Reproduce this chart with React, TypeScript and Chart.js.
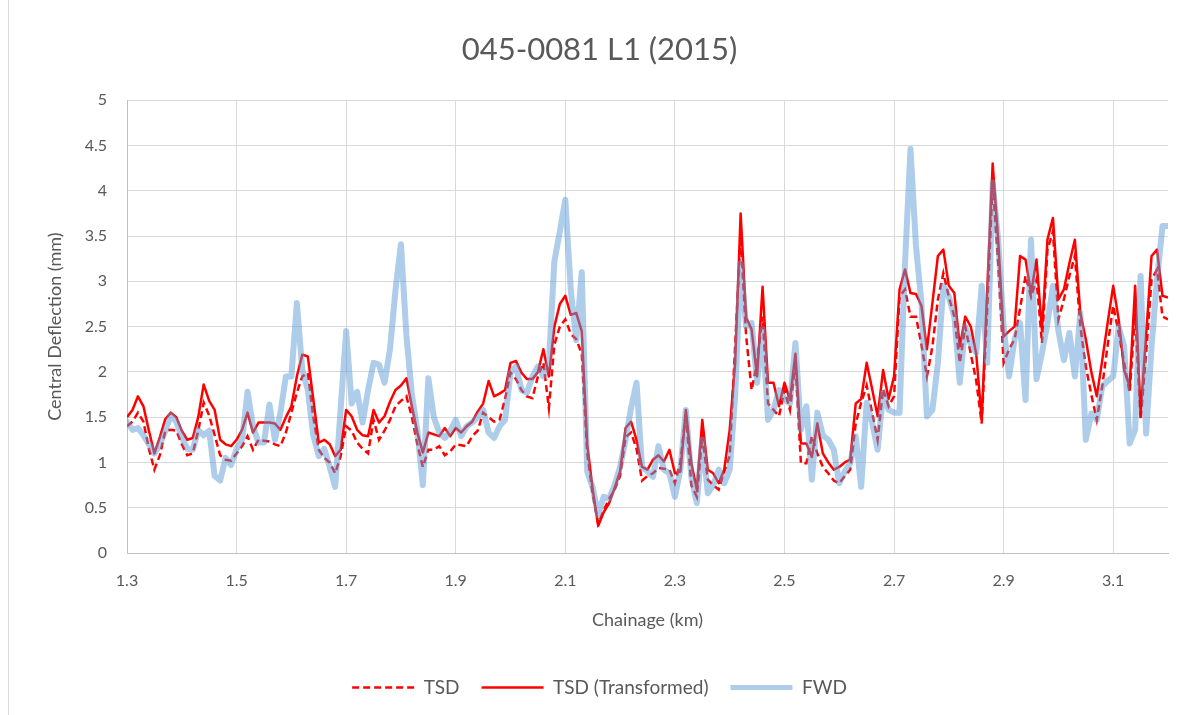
import React, { useEffect, useRef } from "react";
import { Chart, registerables } from "chart.js";

Chart.register(...registerables);

const TITLE = "045-0081 L1 (2015)";
const X_TITLE = "Chainage (km)";
const Y_TITLE = "Central Deflection (mm)";
const SERIES_NAMES = ["TSD", "TSD (Transformed)", "FWD"];
const X_TICKS = [1.3, 1.5, 1.7, 1.9, 2.1, 2.3, 2.5, 2.7, 2.9, 3.1];

const chainage = [
  1.30, 1.31, 1.32, 1.33, 1.34, 1.35, 1.36, 1.37, 1.38, 1.39,
  1.40, 1.41, 1.42, 1.43, 1.44, 1.45, 1.46, 1.47, 1.48, 1.49,
  1.50, 1.51, 1.52, 1.53, 1.54, 1.55, 1.56, 1.57, 1.58, 1.59,
  1.60, 1.61, 1.62, 1.63, 1.64, 1.65, 1.66, 1.67, 1.68, 1.69,
  1.70, 1.71, 1.72, 1.73, 1.74, 1.75, 1.76, 1.77, 1.78, 1.79,
  1.80, 1.81, 1.82, 1.83, 1.84, 1.85, 1.86, 1.87, 1.88, 1.89,
  1.90, 1.91, 1.92, 1.93, 1.94, 1.95, 1.96, 1.97, 1.98, 1.99,
  2.00, 2.01, 2.02, 2.03, 2.04, 2.05, 2.06, 2.07, 2.08, 2.09,
  2.10, 2.11, 2.12, 2.13, 2.14, 2.15, 2.16, 2.17, 2.18, 2.19,
  2.20, 2.21, 2.22, 2.23, 2.24, 2.25, 2.26, 2.27, 2.28, 2.29,
  2.30, 2.31, 2.32, 2.33, 2.34, 2.35, 2.36, 2.37, 2.38, 2.39,
  2.40, 2.41, 2.42, 2.43, 2.44, 2.45, 2.46, 2.47, 2.48, 2.49,
  2.50, 2.51, 2.52, 2.53, 2.54, 2.55, 2.56, 2.57, 2.58, 2.59,
  2.60, 2.61, 2.62, 2.63, 2.64, 2.65, 2.66, 2.67, 2.68, 2.69,
  2.70, 2.71, 2.72, 2.73, 2.74, 2.75, 2.76, 2.77, 2.78, 2.79,
  2.80, 2.81, 2.82, 2.83, 2.84, 2.85, 2.86, 2.87, 2.88, 2.89,
  2.90, 2.91, 2.92, 2.93, 2.94, 2.95, 2.96, 2.97, 2.98, 2.99,
  3.00, 3.01, 3.02, 3.03, 3.04, 3.05, 3.06, 3.07, 3.08, 3.09,
  3.10, 3.11, 3.12, 3.13, 3.14, 3.15, 3.16, 3.17, 3.18, 3.19,
  3.20,
];

const tsd = [
  1.4, 1.45, 1.55, 1.45, 1.15, 0.92, 1.08, 1.35, 1.36, 1.35,
  1.2, 1.08, 1.1, 1.35, 1.66, 1.52, 1.3, 1.08, 1.03, 1.02,
  1.1, 1.18, 1.29, 1.14, 1.25, 1.24, 1.23, 1.2, 1.18, 1.33,
  1.55, 1.77, 1.95, 1.99, 1.5, 1.14, 1.05, 1.0, 0.88, 1.07,
  1.4, 1.35, 1.22, 1.15, 1.1, 1.47, 1.25, 1.35, 1.47, 1.62,
  1.68, 1.73, 1.5, 1.2, 0.95, 1.14, 1.14, 1.18, 1.08, 1.12,
  1.2, 1.19, 1.18, 1.29, 1.35, 1.55, 1.5, 1.45, 1.47, 1.7,
  1.99, 1.92, 1.8, 1.73, 1.71, 1.95, 2.1, 1.6, 2.3, 2.5,
  2.58, 2.42, 2.36, 2.2, 1.1, 0.65, 0.32, 0.47, 0.6, 0.7,
  0.85, 1.28, 1.33, 1.15, 0.8, 0.85, 0.88, 0.94, 0.93, 0.92,
  0.77, 1.0, 1.55, 0.75, 0.62, 1.29, 0.81, 0.75, 0.7, 0.9,
  1.07, 2.3, 3.5, 2.4, 1.8, 2.1, 2.61, 1.65, 1.58, 1.51,
  1.8, 1.58, 2.1, 0.99, 0.99, 1.29, 1.1, 0.95, 0.88, 0.8,
  0.77, 0.85, 0.92, 1.43, 1.66, 1.85, 1.55, 1.25, 1.81, 1.62,
  1.73, 2.83, 2.91, 2.61, 2.61, 2.3, 1.95, 2.28, 2.8, 3.09,
  2.83, 2.61, 2.1, 2.5, 2.2, 1.9, 1.43, 2.7, 4.09, 3.2,
  2.1, 2.25, 2.36, 2.7, 3.06, 2.83, 3.02, 2.32, 3.35, 3.55,
  2.58, 2.8, 3.06, 3.28, 2.5, 2.06, 1.75, 1.47, 1.84, 2.3,
  2.73, 2.43, 2.1, 1.77, 2.65, 1.47, 2.2, 3.02, 3.13, 2.61,
  2.58,
];

const tsdTransformed = [
  1.5, 1.58, 1.73, 1.62, 1.35, 1.1, 1.28, 1.48, 1.55, 1.5,
  1.35, 1.25, 1.27, 1.5, 1.86, 1.68, 1.58, 1.25, 1.2, 1.18,
  1.25, 1.36, 1.55, 1.33, 1.44, 1.44, 1.44, 1.43, 1.36, 1.5,
  1.62, 1.95, 2.19, 2.17, 1.7, 1.22, 1.25, 1.2, 1.07, 1.14,
  1.58, 1.51, 1.36, 1.3, 1.29, 1.58, 1.44, 1.51, 1.67, 1.8,
  1.85, 1.93, 1.62, 1.33, 1.11, 1.33, 1.31, 1.29, 1.38, 1.29,
  1.38, 1.33, 1.4, 1.45, 1.56, 1.65, 1.9, 1.73, 1.76, 1.8,
  2.1, 2.12, 1.99, 1.92, 1.92, 2.0, 2.25, 1.95, 2.5, 2.75,
  2.84, 2.63, 2.65, 2.45, 1.2, 0.7, 0.3, 0.45, 0.55, 0.72,
  0.9, 1.38, 1.45, 1.25, 0.95, 0.92, 1.03, 1.08, 1.01, 1.14,
  0.88, 0.9, 1.58, 0.99, 0.7, 1.47, 0.92, 0.88, 0.77, 0.92,
  1.36, 2.1, 3.75, 2.6, 2.47, 1.95, 2.94, 1.88, 1.88, 1.62,
  1.88, 1.69, 2.2, 1.21, 1.21, 1.06, 1.43, 1.1, 1.0, 0.92,
  0.95, 1.0, 1.03, 1.65, 1.7, 2.1, 1.81, 1.51, 2.02, 1.7,
  1.95, 2.91, 3.13, 2.87, 2.86, 2.73, 2.25, 2.76, 3.28, 3.35,
  2.95, 2.87, 2.28, 2.61, 2.5, 2.2, 1.47, 2.9, 4.3, 3.46,
  2.39, 2.45, 2.5, 3.28, 3.24, 2.87, 3.24, 2.46, 3.46, 3.7,
  2.8, 2.91, 3.2, 3.46, 2.65, 2.36, 2.0, 1.73, 2.13, 2.55,
  2.95, 2.58, 2.02, 1.84, 2.95, 1.54, 2.4, 3.28, 3.35, 2.84,
  2.82,
];

const fwd = [
  1.45, 1.36, 1.38, 1.3, 1.2, 1.1, 1.2, 1.35, 1.52, 1.45,
  1.28, 1.15, 1.14, 1.36, 1.3, 1.35, 0.85, 0.8, 1.05, 0.97,
  1.15, 1.25, 1.78, 1.4, 1.22, 1.22, 1.64, 1.25, 1.55, 1.95,
  1.95, 2.76, 2.02, 1.8, 1.3, 1.07, 1.15, 0.95, 0.73, 1.6,
  2.45, 1.65, 1.78, 1.44, 1.8, 2.1, 2.08, 1.88, 2.25, 2.9,
  3.41, 2.4, 1.75, 1.35, 0.75, 1.93, 1.5, 1.33, 1.27, 1.35,
  1.47, 1.29, 1.4, 1.44, 1.5, 1.58, 1.33, 1.27, 1.4, 1.47,
  1.99, 2.06, 1.8, 1.77, 1.95, 2.06, 1.95, 2.1, 3.22, 3.55,
  3.9, 2.9, 2.35, 3.1, 0.9, 0.72, 0.42, 0.62, 0.6, 0.75,
  0.95, 1.25, 1.6, 1.88, 0.95, 0.9, 0.84, 1.18, 0.92, 0.88,
  0.62, 0.92, 1.58, 0.84, 0.55, 1.25, 0.66, 0.75, 0.92, 0.77,
  0.92, 1.73, 3.2, 2.5, 2.54, 1.88, 2.47, 1.47, 1.58, 1.8,
  1.7, 1.65, 2.32, 1.36, 1.62, 0.81, 1.55, 1.3, 1.25, 1.14,
  0.77, 0.9, 0.99, 1.29, 0.73, 1.66, 1.44, 1.14, 1.77, 1.58,
  1.55, 1.55, 3.2, 4.46, 3.39, 2.76, 1.51, 1.58, 2.1, 2.95,
  2.83, 2.61, 1.88, 2.5, 2.3, 2.21, 2.95, 2.1, 4.09, 3.46,
  2.5, 1.95, 2.36, 2.54, 1.69, 3.46, 1.92, 2.21, 2.54, 2.95,
  2.45, 2.13, 2.43, 1.95, 2.65, 1.25, 1.54, 1.47, 1.84, 1.9,
  1.95, 2.5, 2.28, 1.21, 1.36, 3.06, 1.32, 2.28, 3.02, 3.61,
  3.61,
];

const FONT = "Lato, 'Open Sans', sans-serif";
const TEXT_COLOR = "#595959";

const toPoints = (ys: number[]) => chainage.map((x, i) => ({ x, y: ys[i] }));

export default function App() {
  const canvasRef = useRef<HTMLCanvasElement | null>(null);

  useEffect(() => {
    document.body.style.margin = "0";
    const canvas = canvasRef.current;
    if (!canvas) return;
    const chart = new Chart(canvas, {
      type: "line",
      data: {
        datasets: [
          {
            label: SERIES_NAMES[0],
            data: toPoints(tsd),
            borderColor: "#FF0000",
            backgroundColor: "#FF0000",
            borderWidth: 2.5,
            borderDash: [7, 4],
            pointRadius: 0,
            tension: 0,
            order: 2,
          },
          {
            label: SERIES_NAMES[1],
            data: toPoints(tsdTransformed),
            borderColor: "#FF0000",
            backgroundColor: "#FF0000",
            borderWidth: 2.5,
            pointRadius: 0,
            tension: 0,
            borderJoinStyle: "round",
            order: 1,
          },
          {
            label: SERIES_NAMES[2],
            data: toPoints(fwd),
            borderColor: "rgba(91,155,213,0.5)",
            backgroundColor: "rgba(91,155,213,0.5)",
            borderWidth: 6,
            pointRadius: 0,
            tension: 0,
            borderJoinStyle: "round",
            borderCapStyle: "round",
            order: 0,
          },
        ],
      },
      options: {
        responsive: false,
        animation: false,
        devicePixelRatio: 1,
        layout: { padding: { left: 0, right: 0, top: 0, bottom: 8 } },
        plugins: {
          title: {
            display: true,
            text: TITLE,
            color: TEXT_COLOR,
            font: { family: FONT, size: 31, weight: "normal" },
            padding: { top: 31, bottom: 32 },
          },
          legend: {
            position: "bottom",
            labels: {
              usePointStyle: true,
              pointStyleWidth: 62,
              padding: 22,
              color: TEXT_COLOR,
              font: { family: FONT, size: 19 },
              generateLabels: (chart: any) =>
                chart.data.datasets.map((ds: any, i: number) => ({
                  text: ds.label,
                  datasetIndex: i,
                  strokeStyle: ds.borderColor,
                  fillStyle: ds.borderColor,
                  lineWidth: i === 2 ? 5 : ds.borderWidth,
                  lineDash: ds.borderDash || [],
                  pointStyle: "line",
                  hidden: false,
                  fontColor: TEXT_COLOR,
                })),
            },
          },
          tooltip: { enabled: false },
        },
        scales: {
          x: {
            type: "linear",
            min: 1.3,
            max: 3.2,
            afterBuildTicks: (scale: any) => {
              scale.ticks = X_TICKS.map((v) => ({ value: v }));
            },
            afterFit: (scale: any) => {
              scale.height = 103;
            },
            grid: { color: "#d9d9d9", lineWidth: 1, drawTicks: false },
            border: { color: "#bfbfbf", width: 1 },
            ticks: {
              padding: 18,
              color: TEXT_COLOR,
              font: { family: FONT, size: 16 },
              callback: (v: any) => String(v),
            },
            title: {
              display: true,
              text: X_TITLE,
              color: TEXT_COLOR,
              font: { family: FONT, size: 18 },
              padding: { top: 0, bottom: 25 },
            },
          },
          y: {
            min: 0,
            max: 5,
            afterFit: (scale: any) => {
              scale.width = 127;
            },
            grid: { color: "#d9d9d9", lineWidth: 1, drawTicks: false },
            border: { color: "#bfbfbf", width: 1 },
            ticks: {
              stepSize: 0.5,
              padding: 20,
              color: TEXT_COLOR,
              font: { family: FONT, size: 16 },
              callback: (v: any) => String(Math.round(Number(v) * 10) / 10),
            },
            title: {
              display: true,
              text: Y_TITLE,
              color: TEXT_COLOR,
              font: { family: FONT, size: 18 },
              padding: { top: 44, bottom: 0 },
            },
          },
          spacer: {
            type: "linear",
            position: "right",
            display: true,
            afterFit: (scale: any) => {
              scale.width = 31;
            },
            grid: { display: false, drawTicks: false },
            border: { display: false },
            ticks: { display: false },
            title: { display: false },
          },
        },
      },
    });
    return () => chart.destroy();
  }, []);

  return (
    <div style={{ width: 1199, height: 715, position: "relative", background: "#ffffff" }}>
      <canvas ref={canvasRef} width={1199} height={715} style={{ display: "block" }} />
      <div
        style={{
          position: "absolute",
          left: 8,
          top: 0,
          width: 1,
          height: 715,
          background: "#d9d9d9",
        }}
      />
    </div>
  );
}
